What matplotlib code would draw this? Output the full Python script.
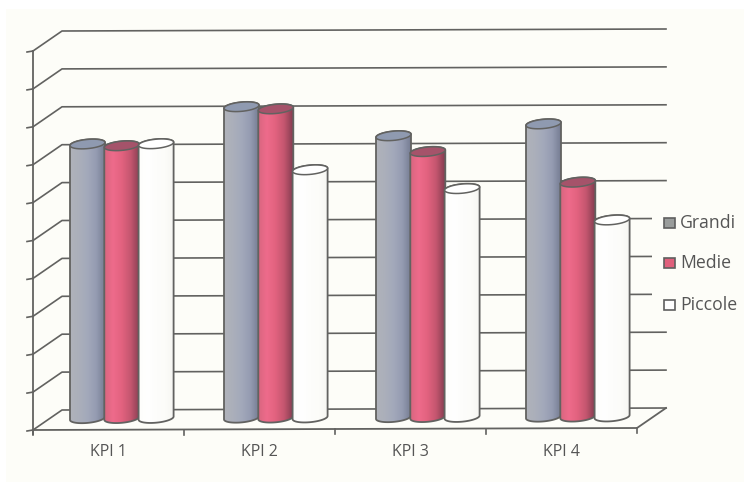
#!/usr/bin/env python3
"""3D-style cylinder chart of four KPIs by company size."""

import numpy as np
import matplotlib
matplotlib.use("Agg")
import matplotlib.pyplot as plt
from matplotlib.colors import LinearSegmentedColormap
from matplotlib.patches import Polygon, Rectangle

plt.rcParams["font.family"] = ["Open Sans", "DejaVu Sans"]

# === Data ====================================================================
categories = ["KPI 1", "KPI 2", "KPI 3", "KPI 4"]
series_names = ["Grandi", "Medie", "Piccole"]
grandi = [7.33, 8.30, 7.52, 7.82]
medie = [7.28, 8.24, 7.10, 6.28]
piccole = [7.33, 6.63, 6.12, 5.28]
n_gridlines = 10

# === Layout (pixels) =========================================================
W, H = 744, 482
FRONT_X0, FRONT_X1 = 33, 637
FRONT_Y0 = 430
UNIT = 37.9
DEPTH_X, DEPTH_Y = 29, -20
TILT = -2 / 604
BAR_W = 35
BAR_STEP = 34.3
GROUP_LEFT = [70, 224, 376, 526]
LINE = "#626260"
PAPER = "#fdfdf8"

series = [grandi, medie, piccole]
stops = [
    ["#b0b3ba", "#abafba", "#a3a9bb", "#959cb2", "#767d93"],
    ["#d8667f", "#ee6b8b", "#e2627f", "#c4566f", "#863d51"],
    ["#fdfdfb", "#ffffff", "#fdfdfb", "#fcfcf9", "#f6f6f2"],
]
cap_colors = ["#8f9ab0", "#a5536a", "#ffffff"]
swatch_colors = ["#9a9d9c", "#e0607c", "#ffffff"]


def front(x, v=0.0, depth=0.0):
    """Pixel position of a point on the chart box: v is in value units, depth 0..1."""
    px = x + DEPTH_X * depth
    py = FRONT_Y0 + TILT * (x - FRONT_X0) - v * UNIT + DEPTH_Y * depth
    return px, py


def ellipse(cx, cy, half_w, t0=0.0, t1=2 * np.pi):
    t = np.linspace(t0, t1, 40)
    xs = cx + half_w * np.cos(t)
    ys = cy + 4.6 * np.sin(t) - 0.09 * half_w * np.cos(t)
    return np.column_stack([xs, ys])


def draw_cylinder(ax, x0, value, idx, z):
    half_w = BAR_W / 2
    cx = x0 + half_w
    _, base = front(cx, 0, 0.4)
    top = base - value * UNIT

    # right to left under the base, then left to right over the top
    lower = ellipse(cx, base - 3.5, half_w, 0, np.pi)
    upper = ellipse(cx, top, half_w, np.pi, 2 * np.pi)
    body = Polygon(np.vstack([lower, upper]), closed=True,
                   facecolor="none", edgecolor=LINE, lw=1.3, zorder=z + 0.2)
    cmap = LinearSegmentedColormap.from_list(f"cyl{idx}", stops[idx])
    grad = np.linspace(0, 1, 128).reshape(1, -1)
    im = ax.imshow(grad, cmap=cmap, extent=(x0, x0 + BAR_W, base + 3, top - 6),
                   aspect="auto", zorder=z, interpolation="bilinear")
    clip = Polygon(body.get_xy(), closed=True, transform=ax.transData)
    im.set_clip_path(clip)
    ax.add_patch(body)
    ax.add_patch(Polygon(ellipse(cx, top, half_w), closed=True, facecolor=cap_colors[idx],
                         edgecolor=LINE, lw=1.1, zorder=z + 0.3))


fig = plt.figure(figsize=(W / 100, H / 100), dpi=100, facecolor="white")
ax = fig.add_axes([0, 0, 1, 1])
ax.axis("off")

# sheet background, leaves a thin white strip at the top left
ax.add_patch(Rectangle((6, 9), W - 6, H - 9, facecolor=PAPER, edgecolor="none", zorder=0))

# back wall gridlines and their side-wall returns
for v in range(n_gridlines + 1):
    x_left, y_left = front(FRONT_X0, v)
    x_back, y_back = front(FRONT_X0, v, 1)
    x_end, y_end = front(FRONT_X1, v, 1)
    ax.plot([x_left, x_back, x_end], [y_left, y_back, y_end], color=LINE, lw=1.2, zorder=1)
    ax.plot([x_left - 6, x_left], [y_left + 1, y_left], color=LINE, lw=1.2, zorder=1)

# front axis, floor edge and category ticks
x0, y0 = front(FRONT_X0)
x1, y1 = front(FRONT_X1)
x2, y2 = front(FRONT_X1, 0, 1)
ax.plot([x0, x0], [front(FRONT_X0, n_gridlines)[1], y0 + 4], color=LINE, lw=1.3, zorder=1.5)
ax.plot([x0, x1, x2], [y0, y1, y2], color=LINE, lw=1.3, zorder=1.5)
slot = (FRONT_X1 - FRONT_X0) / len(categories)
for i in range(len(categories) + 1):
    tx, ty = front(FRONT_X0 + i * slot)
    ax.plot([tx, tx], [ty, ty + 5], color=LINE, lw=1.2, zorder=1.5)

# legend sits on an opaque panel that cuts the gridlines short
ax.add_patch(Rectangle((652, 205), 92, 115, facecolor=PAPER, edgecolor="none", zorder=2))

for i, name in enumerate(categories):
    for j, values in enumerate(series):
        draw_cylinder(ax, GROUP_LEFT[i] + j * BAR_STEP, values[i], j, 3 + j)
    lx, _ = front(FRONT_X0 + (i + 0.5) * slot)
    ax.text(lx, 452, name, ha="center", va="center", fontsize=11.5, color="#555555")

for name, color, y in zip(series_names, swatch_colors, [223, 263, 305]):
    ax.add_patch(Rectangle((663.5, y - 5), 11, 10, facecolor=color, edgecolor="#5f5f5f", lw=1.2, zorder=8))
    ax.text(680, y, name, ha="left", va="center", fontsize=12.7, color="#555555", zorder=8)

ax.set_xlim(0, W)
ax.set_ylim(H, 0)
fig.savefig("out.png", dpi=100, facecolor=fig.get_facecolor())
